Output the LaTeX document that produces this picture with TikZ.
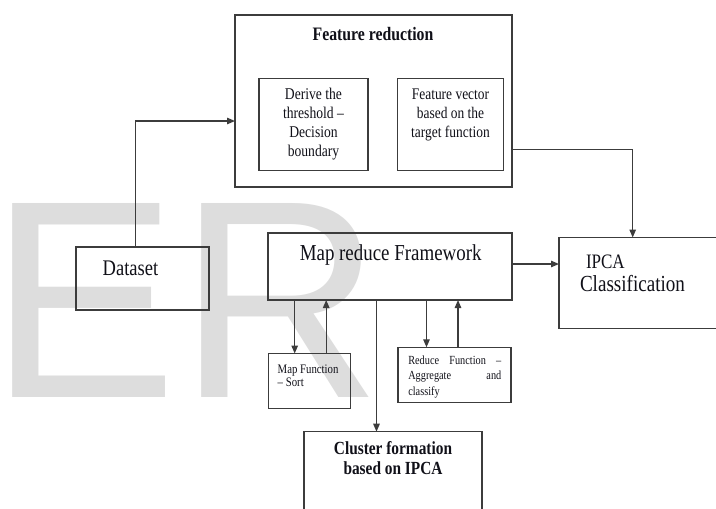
\documentclass[tikz,border=0pt]{standalone}
\usepackage{fontspec}
\setmainfont{Liberation Serif}[FakeStretch=0.83]
\newfontfamily\wmfont{Liberation Sans}
\usetikzlibrary{arrows.meta,calc}
\definecolor{boxc}{HTML}{3C3C3C}
\definecolor{wmc}{HTML}{DDDDDD}
\definecolor{txt}{HTML}{101018}
\begin{document}
\begin{tikzpicture}[x=1pt,y=-1pt,
  box/.style={draw=boxc, line width=1.3pt, inner sep=0pt, outer sep=0pt},
  lbl/.style={inner sep=0pt, outer sep=0pt, text=txt},
  conn/.style={draw=boxc, line width=1.3pt, -{Triangle[length=8pt,width=6.5pt]}},
  wm/.style={inner sep=0pt, outer sep=0pt, text=wmc, font=\wmfont\fontsize{282}{282}\selectfont}]
\useasboundingbox (0,0) rectangle (716,509);
\clip (0,0) rectangle (716,509);
% watermark
\node[wm, anchor=base west] (wmark) at (-10,397) {ER};
% boxes
\node[box, minimum width=277pt, minimum height=172pt] (fr) at (373.5,101) {};
\node[box, minimum width=109pt, minimum height=92pt] (der) at (313.5,124.5) {};
\node[box, minimum width=106pt, minimum height=92pt] (fvec) at (450.3,124.5) {};
\node[box, minimum width=133pt, minimum height=63pt] (ds) at (142.5,278.5) {};
\node[box, minimum width=244pt, minimum height=67pt] (mr) at (390,266.5) {};
\node[box, minimum width=163pt, minimum height=91pt] (ipca) at (640.5,283) {};
\node[box, minimum width=82pt, minimum height=55pt] (mapf) at (309.7,381) {};
\node[box, minimum width=113pt, minimum height=55pt] (redf) at (454.5,374.8) {};
\node[box, minimum width=178pt, minimum height=90pt] (cl) at (393,476.7) {};
% texts
\node[lbl, anchor=base] (frt) at (373,40.7) {\bfseries\fontsize{19}{19}\selectfont Feature reduction};
\node[lbl, anchor=base] (dert) at (313.5,99.3) {\fontsize{16.4}{19}\selectfont\parbox[t]{105pt}{\centering Derive the\\threshold –\\Decision\\boundary}};
\node[lbl, anchor=base] (fvect) at (450.5,99.3) {\fontsize{16.2}{19}\selectfont\parbox[t]{104pt}{\centering Feature vector\\based on the\\target function}};
\node[lbl, anchor=base west] (dst) at (102.7,275) {\fontsize{22.3}{22}\selectfont Dataset};
\node[lbl, anchor=base] (mrt) at (390.7,260) {\fontsize{22.8}{22}\selectfont Map reduce Framework};
\node[lbl, anchor=base west] (ipt1) at (586,268.3) {\fontsize{20.5}{22}\selectfont IPCA};
\node[lbl, anchor=base west] (ipt2) at (580,291) {\fontsize{23}{22}\selectfont Classification};
\node[lbl, anchor=base west] (mapt) at (277.7,373.3) {\fontsize{13}{13.4}\selectfont\parbox[t]{70pt}{\raggedright Map Function\\– Sort}};
\node[lbl, anchor=base west] (redt) at (408.3,364) {\fontsize{12.4}{15.5}\selectfont\parbox[t]{93pt}{Reduce Function –\linebreak Aggregate and\linebreak classify\par}};
\node[lbl, anchor=base] (clt) at (393,454.3) {\bfseries\fontsize{18.5}{20}\selectfont\parbox[t]{170pt}{\centering Cluster formation\\based on IPCA}};
% connectors
\draw[conn] ([xshift=-7pt]ds.north) |- ([yshift=-20pt]fr.west);
\draw[conn] ([yshift=-48.3pt]fr.east) -| ([xshift=-7.8pt]ipca.north);
\draw[conn] ([yshift=2.5pt]mr.east) -- ([yshift=2.5pt]mr.east -| ipca.west);
\coordinate (m1) at ($(mapf.north west)+(26,0)$);
\coordinate (m2) at ($(mapf.north west)+(57.5,0)$);
\coordinate (r1) at ($(redf.north west)+(28.5,0)$);
\coordinate (r2) at ($(redf.north west)+(60,0)$);
\coordinate (c1) at ($(cl.north west)+(72.5,0)$);
\draw[conn] (m1 |- mr.south) -- (m1);
\draw[conn] (m2) -- (m2 |- mr.south);
\draw[conn] (r1 |- mr.south) -- (r1);
\draw[conn] (r2) -- (r2 |- mr.south);
\draw[conn] (c1 |- mr.south) -- (c1);
\end{tikzpicture}
\end{document}
